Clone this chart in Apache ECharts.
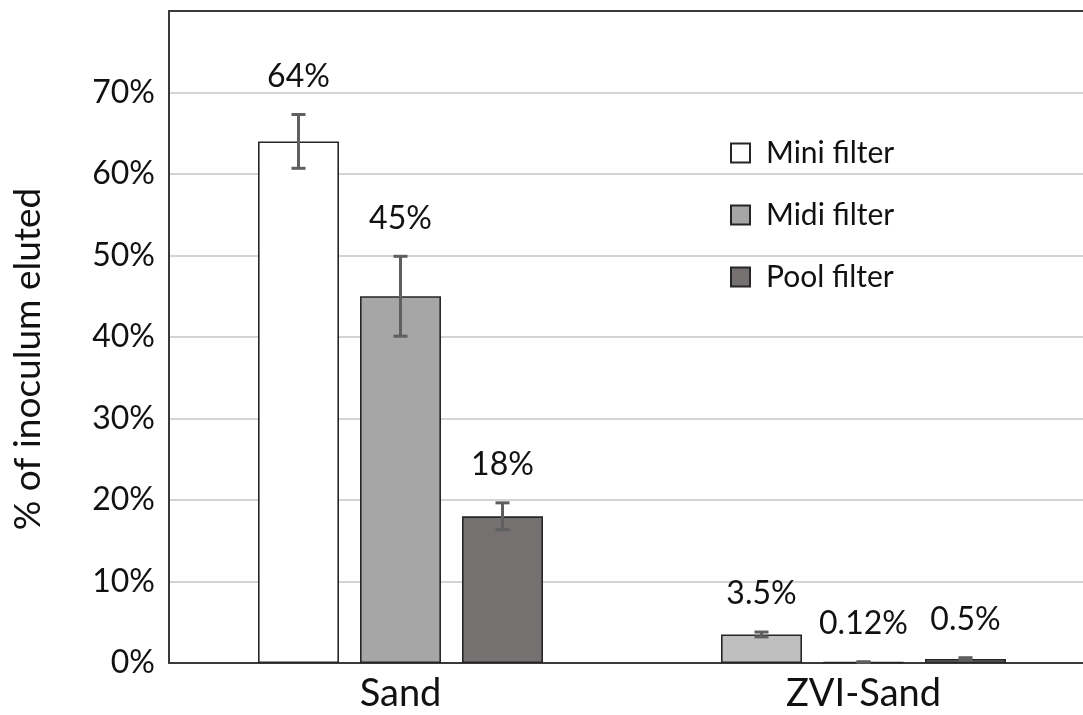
<!DOCTYPE html>
<html>
<head>
<meta charset="utf-8">
<script src="https://cdn.jsdelivr.net/npm/echarts@6/dist/echarts.min.js"></script>
<style>
  html, body { margin: 0; padding: 0; background: #ffffff; }
  #chart { width: 1083px; height: 715px; }
</style>
</head>
<body>
<div id="chart"></div>
<script>
// Elution results per media type and filter size
const categories = ['Sand', 'ZVI-Sand'];
const seriesNames = ['Mini filter', 'Midi filter', 'Pool filter'];
const miniValues = [64, 3.5];
const midiValues = [45, 0.12];
const poolValues = [18, 0.5];
const miniErrors = [3.3, 0.3];
const midiErrors = [4.9, 0.02];
const poolErrors = [1.65, 0.15];
const yTicks = [0, 10, 20, 30, 40, 50, 60, 70];

const FONT = 'Lato';
const BAR_W = 81;
const BAR_GAP = 21;
const fills = ['#ffffff', '#a6a6a6', '#767171'];
const valuesBySeries = [miniValues, midiValues, poolValues];
const errorsBySeries = [miniErrors, midiErrors, poolErrors];

function fmt(v) { return v + '%'; }

// Error bars plus value labels, positioned off each bar's grouped slot
function errorSeries(si) {
  const data = categories.map((c, ci) => [ci, valuesBySeries[si][ci], errorsBySeries[si][ci]]);
  return {
    type: 'custom',
    name: seriesNames[si] + ' error',
    z: 5,
    silent: true,
    data: data,
    renderItem: function (params, api) {
      const ci = api.value(0);
      const v = api.value(1);
      const e = api.value(2);
      const center = api.coord([ci, v]);
      const x = center[0] + (si - 1) * (BAR_W + BAR_GAP);
      const yHi = api.coord([ci, v + e])[1];
      const yLo = api.coord([ci, Math.max(v - e, 0)])[1];
      const cap = 7;
      const stroke = { stroke: '#5f5f5f', lineWidth: 3 };
      return {
        type: 'group',
        children: [
          { type: 'line', shape: { x1: x, y1: yHi, x2: x, y2: yLo }, style: stroke },
          { type: 'line', shape: { x1: x - cap, y1: yHi, x2: x + cap, y2: yHi }, style: stroke },
          { type: 'line', shape: { x1: x - cap, y1: yLo, x2: x + cap, y2: yLo }, style: stroke },
          {
            type: 'text',
            style: {
              text: fmt(v), x: x, y: yHi - 38,
              align: 'center', verticalAlign: 'middle',
              font: '32px ' + FONT, fill: '#111111'
            }
          }
        ]
      };
    }
  };
}

const barSeries = seriesNames.map((name, si) => ({
  type: 'bar',
  name: name,
  xAxisIndex: 0,
  barWidth: BAR_W,
  barGap: (BAR_GAP / BAR_W * 100) + '%',
  data: valuesBySeries[si].map((v, ci) => {
    // the ZVI-Sand mini filter bar is shaded light gray
    if (si === 0 && ci === 1) return { value: v, itemStyle: { color: '#bfbfbf' } };
    return v;
  }),
  itemStyle: { color: fills[si], borderColor: '#262626', borderWidth: 1.6 }
}));

const chart = echarts.init(document.getElementById('chart'), null, { renderer: 'canvas' });
chart.setOption({
  backgroundColor: '#ffffff',
  animation: false,
  textStyle: { fontFamily: FONT },
  grid: { left: 169, top: 11, width: 926, bottom: 52, outerBoundsMode: 'none', containLabel: false },
  legend: {
    orient: 'vertical',
    left: 725,
    top: 133,
    itemWidth: 19,
    itemHeight: 19,
    itemGap: 32,
    icon: 'rect',
    data: seriesNames,
    textStyle: { fontFamily: FONT, fontSize: 30, color: '#111111', padding: [0, 0, 0, 11] }
  },
  xAxis: [
    {
      type: 'category',
      data: categories,
      axisTick: { show: false },
      axisLine: { lineStyle: { color: '#3a3a3a', width: 2 } },
      axisLabel: { fontFamily: FONT, fontSize: 38, color: '#111111', margin: 12 }
    },
    {
      type: 'category',
      position: 'top',
      data: categories,
      axisTick: { show: false },
      axisLabel: { show: false },
      axisLine: { show: true, lineStyle: { color: '#3a3a3a', width: 2 } }
    }
  ],
  yAxis: {
    type: 'value',
    min: 0,
    max: 80,
    interval: 10,
    name: '% of inoculum eluted',
    nameLocation: 'middle',
    nameRotate: 90,
    nameGap: 122,
    nameTextStyle: { fontFamily: FONT, fontSize: 37, color: '#111111', padding: [0, 44, 0, 0] },
    axisLine: { show: true, lineStyle: { color: '#3a3a3a', width: 2 } },
    axisTick: { show: false },
    splitLine: { lineStyle: { color: '#d4d4d4', width: 2 } },
    axisLabel: {
      fontFamily: FONT, fontSize: 32, color: '#111111', margin: 14,
      formatter: function (v) { return yTicks.indexOf(v) >= 0 ? fmt(v) : ''; }
    }
  },
  series: barSeries.concat(seriesNames.map((n, si) => errorSeries(si)))
});
</script>
</body>
</html>
